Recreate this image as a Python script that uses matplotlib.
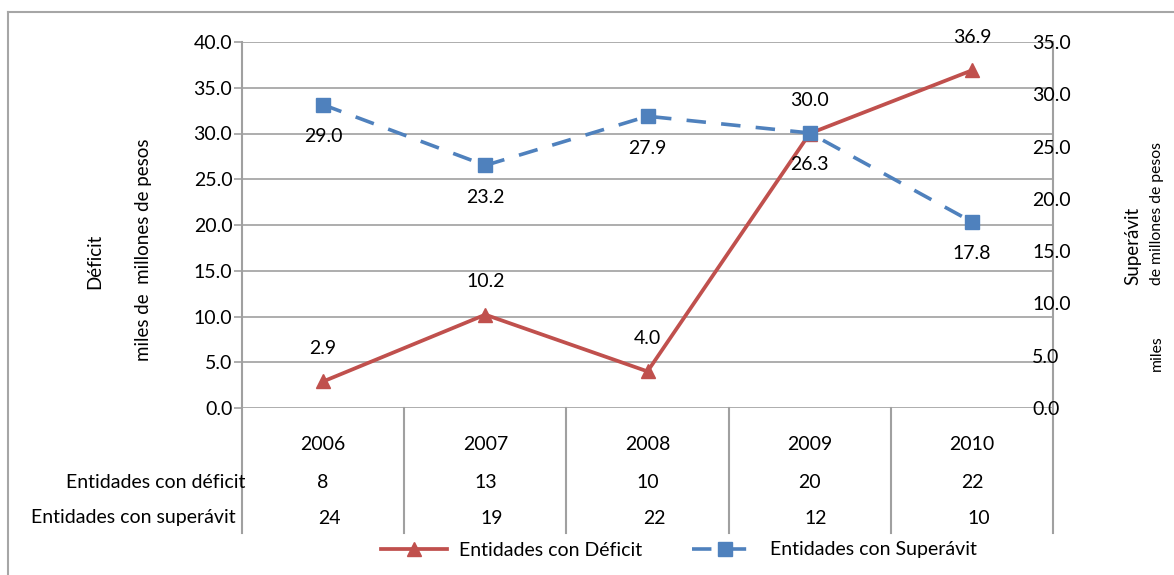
import matplotlib
matplotlib.use("Agg")
import matplotlib.pyplot as plt
from matplotlib.lines import Line2D
import matplotlib.transforms as mtransforms

# Data
years = ["2006", "2007", "2008", "2009", "2010"]
deficit = [2.9, 10.2, 4.0, 30.0, 36.9]          # miles de millones de pesos
superavit = [29.0, 23.2, 27.9, 26.3, 17.8]      # miles de millones de pesos
n_deficit = [8, 13, 10, 20, 22]                 # entidades con déficit
n_superavit = [24, 19, 22, 12, 10]              # entidades con superávit
left_ticks = [0, 5, 10, 15, 20, 25, 30, 35, 40]
right_ticks = [0, 5, 10, 15, 20, 25, 30, 35]

RED = "#C0504D"
BLUE = "#4F81BD"
GRID = "#A0A0A0"
FONT = "Lato"
FS = 14

plt.rcParams["font.family"] = [FONT, "DejaVu Sans"]
plt.rcParams["lines.scale_dashes"] = False

W, H = 1174, 575
fig = plt.figure(figsize=(W / 100, H / 100), dpi=100)

# plot area in pixels: x 242..1053, y 42..408
x0, x1, y0, y1 = 242, 1053, 42, 408
ax = fig.add_axes([x0 / W, 1 - y1 / H, (x1 - x0) / W, (y1 - y0) / H])
ax2 = ax.twinx()

xs = list(range(len(years)))
ax.set_xlim(-0.5, len(years) - 0.5)
ax.set_ylim(0, 40)
ax2.set_ylim(0, 35)

# gridlines from the left scale
for t in left_ticks:
    ax.axhline(t, color=GRID, lw=1.2, zorder=0)

for a in (ax, ax2):
    for s in a.spines.values():
        s.set_visible(False)

ax.set_yticks(left_ticks)
ax.set_yticklabels([f"{t:.1f}" for t in left_ticks], fontsize=FS)
ax.tick_params(axis="y", length=6, width=1.2, color=GRID, pad=1)
ax.set_xticks([])

ax2.set_yticks(right_ticks)
ax2.set_yticklabels([f"{t:.1f}" for t in right_ticks], fontsize=FS)
ax2.tick_params(axis="y", length=0, pad=-15)

# vertical frame lines that run down through the data table
bl = mtransforms.blended_transform_factory(ax.transData, ax.transAxes)
table_bottom = -(533 - y1) / (y1 - y0)
for xv in [-0.5, 0.5, 1.5, 2.5, 3.5, 4.5]:
    top = 1.0 if xv in (-0.5, 4.5) else 0.0
    ax.add_line(Line2D([xv, xv], [table_bottom, top], transform=bl,
                       color=GRID, lw=1.5, clip_on=False, zorder=1))

# series
l_def, = ax.plot(xs, deficit, color=RED, lw=2.7, marker="^", ms=10,
                 markeredgecolor=RED, zorder=4, label="Entidades con Déficit")
l_sup, = ax2.plot(xs, superavit, color=BLUE, lw=2.6, ls=(0, (14, 11)),
                  marker="s", ms=9.5, markeredgecolor=BLUE, zorder=4,
                  label="Entidades con Superávit")

for x, v in zip(xs, deficit):
    ax.annotate(f"{v:.1f}", (x, v), xytext=(0, 24), textcoords="offset points",
                ha="center", va="center", fontsize=FS, zorder=5)
for x, v in zip(xs, superavit):
    ax2.annotate(f"{v:.1f}", (x, v), xytext=(0, -23), textcoords="offset points",
                 ha="center", va="center", fontsize=FS, zorder=5)

# data table below the plot
def ay(ypix):
    return -(ypix - y1) / (y1 - y0)

for x, yr in zip(xs, years):
    ax.text(x, ay(445), yr, transform=bl, ha="center", va="center", fontsize=FS)
for x, n in zip(xs, n_deficit):
    ax.text(x, ay(482), str(n), transform=bl, ha="center", va="center", fontsize=FS)
for x, n in zip(xs, n_superavit):
    ax.text(x + 0.04, ay(518), str(n), transform=bl, ha="center", va="center", fontsize=FS)

ax.text(-0.48, ay(482), "Entidades con déficit", transform=bl, ha="right",
        va="center", fontsize=FS)
ax.text(-0.54, ay(518), "Entidades con superávit", transform=bl, ha="right",
        va="center", fontsize=FS)

# axis titles
fig.text(95 / W, 1 - 261 / H, "Déficit", rotation=90, ha="center", va="center", fontsize=13.5)
fig.text(143 / W, 1 - 250 / H, "miles de  millones de pesos", rotation=90,
         ha="center", va="center", fontsize=13.5)
fig.text(1133 / W, 1 - 285 / H, "Superávit", rotation=90, ha="center", va="bottom", fontsize=13.5)
fig.text(1157 / W, 1 - 285 / H, "de millones de pesos", rotation=90,
         ha="center", va="bottom", fontsize=11.3)
fig.text(1157 / W, 1 - 353 / H, "miles", rotation=90, ha="center", va="center", fontsize=11.3)

# legend
fig.legend(handles=[l_def, l_sup], loc="center", bbox_to_anchor=(679 / W, 1 - 550 / H),
           ncol=2, frameon=False, fontsize=FS, handlelength=3.4, columnspacing=2.6,
           handletextpad=0.6)

# outer chart border
fig.add_artist(Line2D([8 / W, 1.0], [1 - 12 / H, 1 - 12 / H], transform=fig.transFigure,
                      color="#A6A6A6", lw=1.5))
fig.add_artist(Line2D([8 / W, 8 / W], [0, 1 - 12 / H], transform=fig.transFigure,
                      color="#A6A6A6", lw=1.5))

fig.savefig("out.png", dpi=100)
